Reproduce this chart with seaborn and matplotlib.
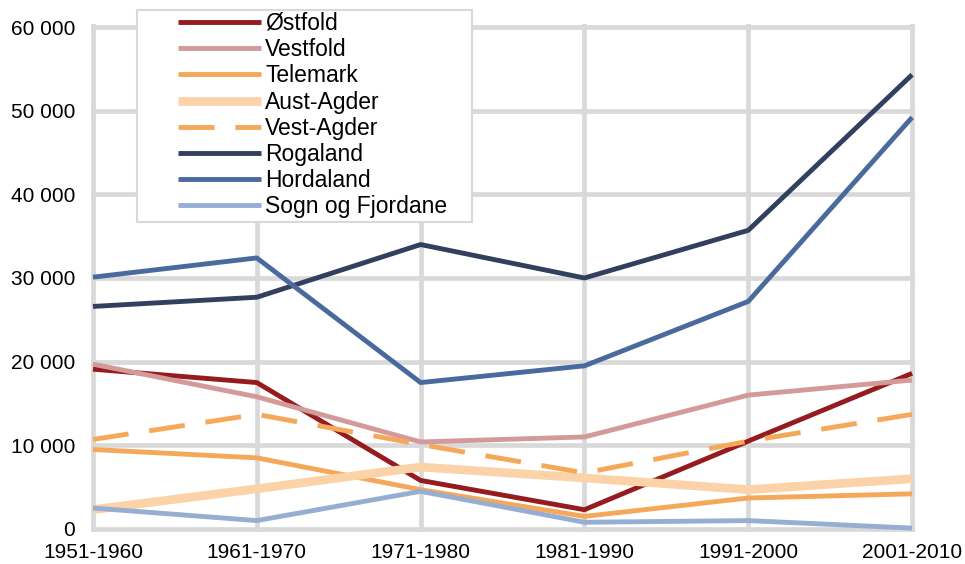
import numpy as np
import pandas as pd
import matplotlib.pyplot as plt
from matplotlib.patches import Rectangle
import seaborn as sns

periods = ["1951-1960", "1961-1970", "1971-1980", "1981-1990", "1991-2000", "2001-2010"]

ostfold = [19100, 17500, 5800, 2300, 10500, 18600]
vestfold = [19700, 15800, 10400, 11000, 16000, 17800]
telemark = [9500, 8500, 4700, 1500, 3700, 4200]
aust_agder = [2300, 4800, 7400, 6100, 4700, 6000]
vest_agder = [10700, 13700, 10100, 6700, 10500, 13700]
rogaland = [26600, 27700, 34000, 30000, 35700, 54300]
hordaland = [30100, 32400, 17500, 19500, 27200, 49200]
sogn = [2500, 1000, 4500, 800, 1000, 100]

names = ["Østfold", "Vestfold", "Telemark", "Aust-Agder", "Vest-Agder",
         "Rogaland", "Hordaland", "Sogn og Fjordane"]
series = [ostfold, vestfold, telemark, aust_agder, vest_agder, rogaland, hordaland, sogn]
colors = ["#951b1e", "#d49a9a", "#f6a85a", "#fcd3a8", "#f6a85a",
          "#333f5f", "#4a6a9d", "#97aed3"]
widths = [3.5, 3.5, 3.5, 6.3, 3.5, 3.5, 3.5, 3.5]

sns.set_theme(style="white")
plt.rcParams["font.family"] = ["Liberation Sans", "DejaVu Sans"]

fig = plt.figure(figsize=(9.65, 5.64), dpi=100)
ax = fig.add_axes([0.0938, 0.0562, 0.9477 - 0.0938, 0.958 - 0.0562])

x = np.arange(len(periods))
for name, vals, col, lw in zip(names, series, colors, widths):
    df = pd.DataFrame({"x": x, "y": vals})
    sns.lineplot(data=df, x="x", y="y", ax=ax, color=col, linewidth=lw,
                 label=name, solid_capstyle="butt", dash_capstyle="butt")
    if name == "Vest-Agder":
        ax.lines[-1].set_dashes((7.4, 4.3))

ax.set_xlim(-0.015, 5.015)
ax.set_ylim(-400, 60400)
ax.set_xticks(x)
ax.set_xticklabels(periods)
yt = np.arange(0, 60001, 10000)
ax.set_yticks(yt)
ax.set_yticklabels([f"{v:,}".replace(",", " ") for v in yt])
ax.tick_params(axis="both", labelsize=15, length=0, colors="black")
ax.tick_params(axis="x", pad=8)
ax.tick_params(axis="y", pad=11)
ax.set_xlabel("")
ax.set_ylabel("")
ax.grid(True, color="#d9d9d9", linewidth=3.4)
ax.set_axisbelow(True)
for s in ax.spines.values():
    s.set_visible(False)

leg = ax.legend(loc="upper left", bbox_to_anchor=(178 / 965, 1 - 12 / 564),
                bbox_transform=fig.transFigure, frameon=False, fontsize=16.5,
                handlelength=3.6, handletextpad=0.2, labelspacing=0.14,
                borderpad=0, borderaxespad=0)
for t in leg.get_texts():
    t.set_color("black")
leg.set_zorder(6)
ax.add_patch(Rectangle((137 / 965, 1 - 222 / 564), 335 / 965, 212 / 564,
                       transform=fig.transFigure, facecolor="white",
                       edgecolor="#d9d9d9", linewidth=1.5, zorder=5, clip_on=False))

fig.savefig("out.png", dpi=100)
